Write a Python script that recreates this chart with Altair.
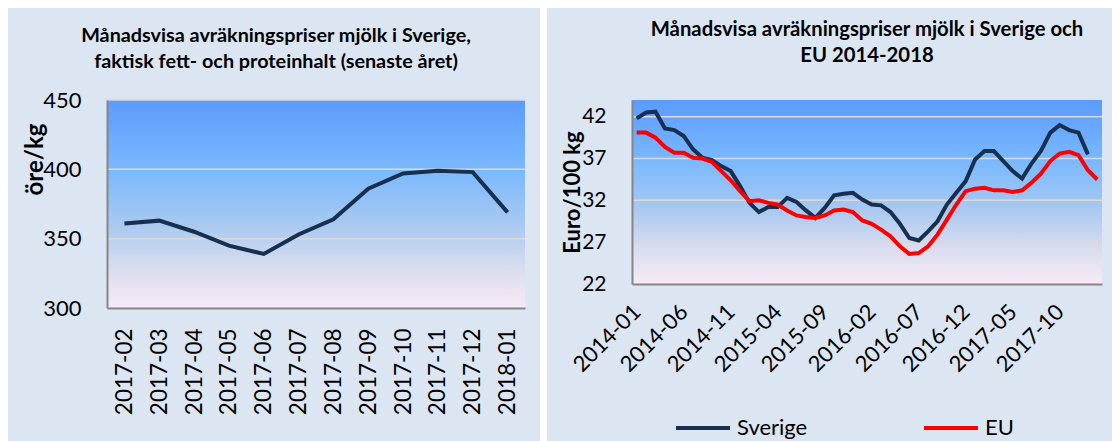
import altair as alt
import pandas as pd

# ---------------- data ----------------
left_months = ["2017-02", "2017-03", "2017-04", "2017-05", "2017-06", "2017-07",
               "2017-08", "2017-09", "2017-10", "2017-11", "2017-12", "2018-01"]
left_values = [361, 363, 355, 345, 339, 353, 364, 386, 397, 399, 398, 369]

right_months = [f"{y}-{m:02d}" for y in range(2014, 2019) for m in range(1, 13)][:50]
sverige = [41.8, 42.5, 42.6, 40.6, 40.4, 39.7, 38.1, 37.1, 36.8, 36.1,
           35.5, 33.7, 31.7, 30.6, 31.2, 31.2, 32.3, 31.8, 30.8, 29.9,
           31.1, 32.6, 32.8, 32.9, 32.1, 31.5, 31.4, 30.6, 29.2, 27.5,
           27.2, 28.3, 29.5, 31.5, 32.9, 34.3, 36.9, 37.9, 37.9, 36.7,
           35.5, 34.6, 36.4, 37.9, 40.1, 41.0, 40.4, 40.1, 37.5]
eu = [40.1, 40.1, 39.5, 38.4, 37.7, 37.7, 37.1, 37.0, 36.6, 35.5,
      34.4, 33.1, 31.9, 32.0, 31.7, 31.5, 30.8, 30.2, 30.0, 29.9,
      30.2, 30.8, 30.9, 30.6, 29.6, 29.2, 28.5, 27.7, 26.5, 25.6,
      25.7, 26.5, 27.9, 29.7, 31.5, 33.1, 33.4, 33.5, 33.2, 33.2,
      33.0, 33.2, 34.1, 35.2, 36.7, 37.6, 37.8, 37.4, 35.6, 34.5]
series_names = ["Sverige", "EU"]
series_colors = ["#17304f", "#ff0000"]

left_title = ["Månadsvisa avräkningspriser mjölk i Sverige,",
              "faktisk fett- och proteinhalt (senaste året)"]
right_title = ["Månadsvisa avräkningspriser mjölk i Sverige och", "EU 2014-2018"]

# ---------------- style ----------------
FONT = "Lato"
BG = "#dce6f2"
GRID = "#d9d9d9"
AXIS = "#868686"

grad = alt.Gradient(
    gradient="linear",
    stops=[
        alt.GradientStop(color="#5b9bfd", offset=0),
        alt.GradientStop(color="#7cbafd", offset=0.35),
        alt.GradientStop(color="#a9c9f0", offset=0.6),
        alt.GradientStop(color="#d8dcef", offset=0.8),
        alt.GradientStop(color="#f8eaf6", offset=1),
    ],
    x1=0, x2=0, y1=0, y2=1,
)

one = alt.Data(values=[{"k": 1}])


def panel_bg(x0, x1, y0, y1, color):
    return alt.Chart(one).mark_rect(color=color).encode(
        x=alt.value(x0), x2=alt.value(x1), y=alt.value(y0), y2=alt.value(y1))


# ---------------- left panel ----------------
LW, LH = 418, 208
left_df = pd.DataFrame({"month": left_months, "value": left_values})
ly_scale = alt.Scale(domain=[300, 450], nice=False)

l_bg = panel_bg(-99, 433, -92, 341, BG)
l_gap = panel_bg(433, 440, -92, 341, "white")
l_plot = alt.Chart(one).mark_rect(fill=grad).encode(
    x=alt.value(0), x2=alt.value(LW), y=alt.value(0), y2=alt.value(LH))
l_grid = alt.Chart(pd.DataFrame({"value": [350, 400, 450]})).mark_rule(
    color=GRID, strokeWidth=1.5).encode(y=alt.Y("value:Q", scale=ly_scale))
l_line = alt.Chart(left_df).mark_line(color="#17304f", strokeWidth=4).encode(
    x=alt.X("month:O", sort=left_months,
            axis=alt.Axis(title=None, labelAngle=270, labelFontSize=22.5, labelFont=FONT,
                          labelColor="black", labelPadding=20, ticks=False,
                          domainColor=AXIS, domainWidth=2, grid=False, zindex=1)),
    y=alt.Y("value:Q", scale=ly_scale,
            axis=alt.Axis(values=[300, 350, 400, 450], ticks=False, labelFontSize=22,
                          labelFont=FONT, labelColor="black", labelPadding=26,
                          domainColor=AXIS, domainWidth=2, grid=False, zindex=1,
                          title="öre/kg", titleFont=FONT, titleFontSize=24,
                          titleFontWeight="bold", titleColor="black", titleAngle=270,
                          titleX=-72, titleY=59, titleAlign="center",
                          titleBaseline="middle")),
)
left = alt.layer(l_bg, l_gap, l_plot, l_grid, l_line).properties(
    width=LW, height=LH,
    title=alt.TitleParams(text=left_title, font=FONT, fontSize=19.8, fontWeight="bold",
                          color="black", anchor="middle", frame="group", dx=-40,
                          offset=-64, lineHeight=26),
)

# ---------------- right panel ----------------
RW, RH = 470, 184
rows = []
for i, v in enumerate(sverige):
    rows.append({"month": right_months[i], "value": v, "serie": "Sverige"})
for i, v in enumerate(eu):
    rows.append({"month": right_months[i], "value": v, "serie": "EU"})
right_df = pd.DataFrame(rows)
ry_scale = alt.Scale(domain=[22, 44], nice=False)

r_bg = panel_bg(-85, 480, -92, 341, BG)
r_plot = alt.Chart(one).mark_rect(fill=grad).encode(
    x=alt.value(0), x2=alt.value(RW), y=alt.value(0), y2=alt.value(RH))
r_grid = alt.Chart(pd.DataFrame({"value": [27, 32, 37, 42]})).mark_rule(
    color=GRID, strokeWidth=1.5).encode(y=alt.Y("value:Q", scale=ry_scale))
r_line = alt.Chart(right_df).mark_line(strokeWidth=4).encode(
    x=alt.X("month:O", sort=right_months, scale=alt.Scale(domain=right_months),
            axis=alt.Axis(title=None, values=right_months[0::5], labelAngle=315,
                          labelAlign="right", labelBaseline="middle",
                          labelFontSize=22, labelFont=FONT, labelColor="black",
                          labelPadding=24, ticks=False, domainColor=AXIS, domainWidth=2,
                          grid=False, zindex=1)),
    y=alt.Y("value:Q", scale=ry_scale,
            axis=alt.Axis(values=[22, 27, 32, 37, 42], ticks=False, labelFontSize=21,
                          labelFont=FONT, labelColor="black", labelPadding=26,
                          domainColor=AXIS, domainWidth=2, grid=False, zindex=1,
                          title="Euro/100 kg", titleFont=FONT, titleFontSize=22,
                          titleFontWeight="bold", titleColor="black", titleAngle=270,
                          titleX=-60, titleY=92, titleAlign="center",
                          titleBaseline="middle")),
    color=alt.Color("serie:N", sort=series_names,
                    scale=alt.Scale(domain=series_names, range=series_colors),
                    legend=alt.Legend(title=None, orient="none", direction="horizontal",
                                      legendX=42, legendY=299, symbolType="stroke",
                                      symbolSize=2916, symbolStrokeWidth=4,
                                      labelFont=FONT, labelFontSize=22,
                                      labelColor="black", labelOffset=5,
                                      columnPadding=108, gridAlign="all")),
)
right = alt.layer(r_bg, r_plot, r_grid, r_line).properties(
    width=RW, height=RH,
    title=alt.TitleParams(text=right_title, font=FONT, fontSize=20.3, fontWeight="bold",
                          color="black", anchor="middle", frame="group", offset=-58,
                          lineHeight=26),
)

chart = alt.hconcat(left, right, spacing=0, padding=0).resolve_scale(
    color="independent").resolve_legend(color="independent").configure(
    background="white").configure_view(stroke=None)

chart.save("out.html", embed_options={"renderer": "svg", "actions": False})
